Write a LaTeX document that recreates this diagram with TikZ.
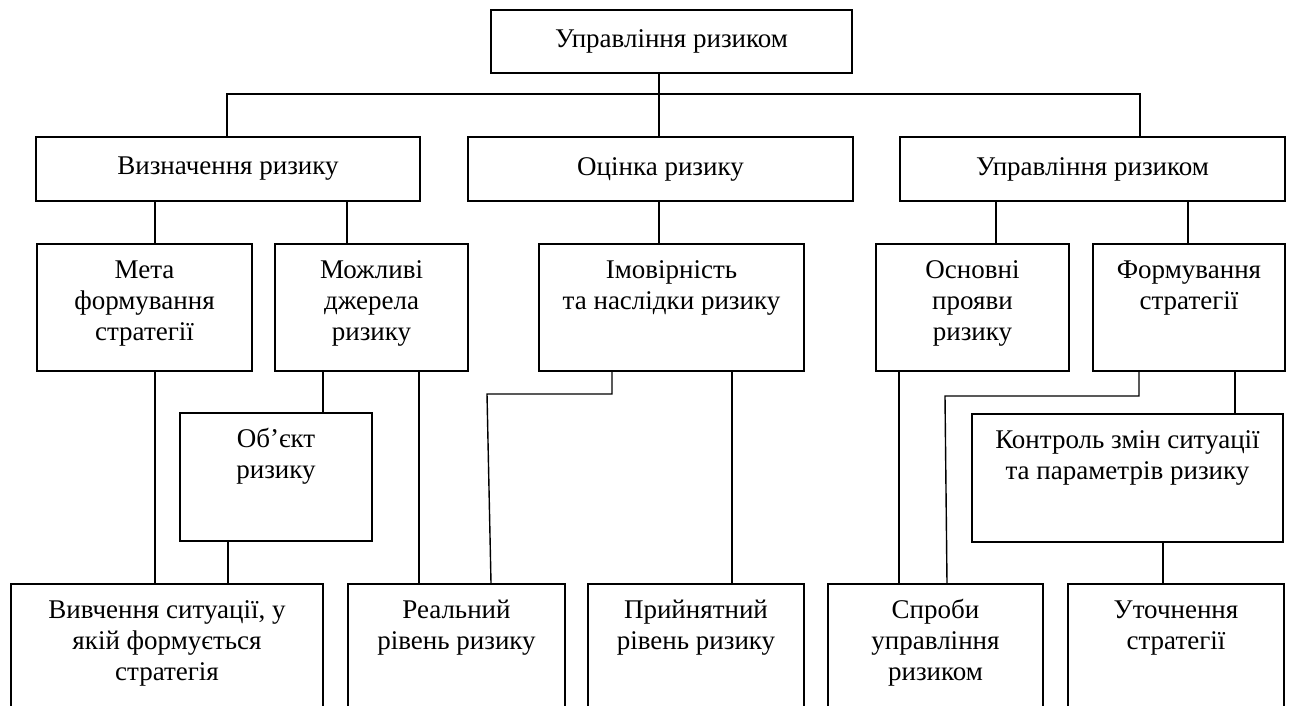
\documentclass[tikz,border=0pt]{standalone}
\usepackage{fontspec}
\setmainfont{Liberation Serif}
\newcommand{\mylines}[1]{\begin{tabular}[t]{@{}c@{}}#1\end{tabular}}
\tikzset{
  bx/.style={draw, line width=2pt, inner sep=0pt, anchor=north west},
  txt/.style={inner sep=0pt, anchor=base},
  conn/.style={line width=1.4pt},
}
\begin{document}
\begin{tikzpicture}[x=1pt, y=-1pt, font=\fontsize{27}{31}\selectfont]
\useasboundingbox (0,0) rectangle (1291,706);
\clip (0,0) rectangle (1291,706);
% level 1
\node[bx, minimum width=361pt, minimum height=63pt] (top) at (490,9) {Управління ризиком};
% level 2
\node[bx, minimum width=384pt, minimum height=64pt] (V) at (35,136) {Визначення ризику};
\node[bx, minimum width=385pt, minimum height=64pt] (O) at (467,136) {Оцінка ризику};
\node[bx, minimum width=385pt, minimum height=64pt] (U) at (899,136) {Управління ризиком};
% level 3
\node[bx, minimum width=215pt, minimum height=127pt] (meta) at (36,243) {};
\node[bx, minimum width=193pt, minimum height=127pt] (mozh) at (274,243) {};
\node[bx, minimum width=265pt, minimum height=127pt] (imov) at (538,243) {};
\node[bx, minimum width=193pt, minimum height=127pt] (osn) at (875,243) {};
\node[bx, minimum width=192pt, minimum height=127pt] (form) at (1092,243) {};
% middle
\node[bx, minimum width=192pt, minimum height=128pt] (obj) at (179,412) {};
\node[bx, minimum width=311pt, minimum height=128pt] (kontr) at (971,413) {};
% bottom
\node[bx, minimum width=312pt, minimum height=200pt] (vyv) at (10,583) {};
\node[bx, minimum width=217pt, minimum height=200pt] (real) at (347,583) {};
\node[bx, minimum width=216pt, minimum height=200pt] (pryin) at (587,583) {};
\node[bx, minimum width=215pt, minimum height=200pt] (sprob) at (827,583) {};
\node[bx, minimum width=216pt, minimum height=200pt] (utoch) at (1067,583) {};
% texts
\node[txt] at ([yshift=-35pt]meta.north) {\mylines{Мета\\формування\\стратегії}};
\node[txt] at ([yshift=-35pt]mozh.north) {\mylines{Можливі\\джерела\\ризику}};
\node[txt] at ([yshift=-35pt]imov.north) {\mylines{Імовірність\\та наслідки ризику}};
\node[txt] at ([yshift=-35pt]osn.north) {\mylines{Основні\\прояви\\ризику}};
\node[txt] at ([yshift=-35pt]form.north) {\mylines{Формування\\стратегії}};
\node[txt] at ([yshift=-35pt]obj.north) {\mylines{Об’єкт\\ризику}};
\node[txt] at ([yshift=-35pt]kontr.north) {\mylines{Контроль змін ситуації\\та параметрів ризику}};
\node[txt] at ([yshift=-35pt]vyv.north) {\mylines{Вивчення ситуації, у\\якій формується\\стратегія}};
\node[txt] at ([yshift=-35pt]real.north) {\mylines{Реальний\\рівень ризику}};
\node[txt] at ([yshift=-35pt]pryin.north) {\mylines{Прийнятний\\рівень ризику}};
\node[txt] at ([yshift=-35pt]sprob.north) {\mylines{Спроби\\управління\\ризиком}};
\node[txt] at ([yshift=-35pt]utoch.north) {\mylines{Уточнення\\стратегії}};
% connectors
\coordinate (bus) at (659,94);
\coordinate (b1) at (487,394);
\coordinate (b2) at (945,396);
\draw[conn] (top.south -| 659,0) -- (O.north -| 659,0);
\draw[conn] (V.north -| 227,0) |- (bus) -| (U.north -| 1140,0);
\draw[conn] (V.south -| 155,0) -- (meta.north -| 155,0);
\draw[conn] (V.south -| 347,0) -- (mozh.north -| 347,0);
\draw[conn] (O.south -| 659,0) -- (imov.north -| 659,0);
\draw[conn] (U.south -| 996,0) -- (osn.north -| 996,0);
\draw[conn] (U.south -| 1188,0) -- (form.north -| 1188,0);
\draw[conn] (meta.south -| 155,0) -- (vyv.north -| 155,0);
\draw[conn] (mozh.south -| 323,0) -- (obj.north -| 323,0);
\draw[conn] (obj.south -| 228,0) -- (vyv.north -| 228,0);
\draw[conn] (mozh.south -| 419,0) -- (real.north -| 419,0);
\draw[conn] (imov.south -| 612,0) |- (b1) -- (real.north -| 491,0);
\draw[conn] (imov.south -| 732,0) -- (pryin.north -| 732,0);
\draw[conn] (osn.south -| 899,0) -- (sprob.north -| 899,0);
\draw[conn] (form.south -| 1139,0) |- (b2) -- (sprob.north -| 947,0);
\draw[conn] (form.south -| 1235,0) -- (kontr.north -| 1235,0);
\draw[conn] (kontr.south -| 1163,0) -- (utoch.north -| 1163,0);
\end{tikzpicture}
\end{document}
